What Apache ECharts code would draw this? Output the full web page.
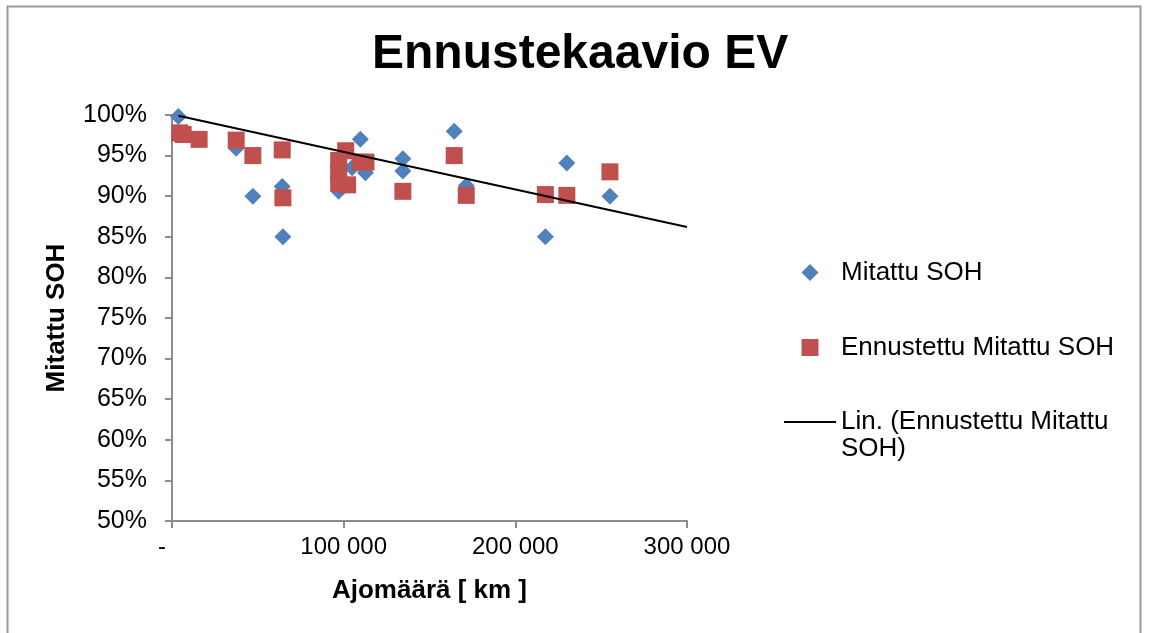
<!DOCTYPE html>
<html>
<head>
<meta charset="utf-8">
<title>Ennustekaavio EV</title>
<script src="https://cdn.jsdelivr.net/npm/echarts@6/dist/echarts.min.js"></script>
<style>
  html, body { margin: 0; padding: 0; background: #fff; }
  #chart { width: 1149px; height: 633px; }
</style>
</head>
<body>
<div id="chart"></div>
<script>
// mitattu SOH (km, %)
var mitattuKm  = [3700, 37400, 47100, 64200, 64600, 97100, 104900, 109700, 112700, 134500, 134500, 164400, 171400, 217500, 230000, 255100];
var mitattuSoh = [99.8, 95.9, 90.0, 91.2, 85.0, 90.6, 93.5, 97.0, 92.9, 94.6, 93.1, 98.0, 91.3, 85.0, 94.1, 90.0];

// ennustettu SOH (km, %)
var ennusteKm  = [4500, 6500, 15800, 37400, 47100, 64200, 64600, 97100, 97100, 97100, 101200, 102300, 109700, 113000, 134500, 164400, 171400, 217500, 230000, 255100];
var ennusteSoh = [97.8, 97.6, 97.0, 96.9, 95.0, 95.7, 89.8, 94.4, 92.9, 91.6, 95.6, 91.4, 94.2, 94.2, 90.6, 95.0, 90.1, 90.2, 90.1, 93.0];

// lineaarinen trendi (alku, loppu)
var trendKm  = [3700, 300000];
var trendSoh = [99.9, 86.2];

var yTicks = [50, 100, 5];      // min, max, interval
var xTicks = [0, 300000, 100000];

function pairs(a, b) {
  var out = [];
  for (var i = 0; i < a.length; i++) out.push([a[i], b[i]]);
  return out;
}

var chart = echarts.init(document.getElementById('chart'));
var font = '"Liberation Sans", Arial, sans-serif';
var axisGray = '#8C8C8C';

var legendText = { fontFamily: font, fontSize: 26, color: '#000', lineHeight: 27 };

// legend icons: 17px symbol centred in a 52px wide box (like the trend line icon)
var diamondIcon = 'path://M0,8.5 L0,8.5 M26,0 L34.5,8.5 L26,17 L17.5,8.5 Z M52,8.5 L52,8.5';
var squareIcon  = 'path://M0,8.5 L0,8.5 M17.5,0 L34.5,0 L34.5,17 L17.5,17 Z M52,8.5 L52,8.5';

var option = {
  animation: false,
  textStyle: { fontFamily: font },
  title: {
    text: 'Ennustekaavio EV',
    left: 372,
    top: 31,
    padding: 0,
    textStyle: { fontFamily: font, fontSize: 48, fontWeight: 'bold', color: '#000' }
  },
  graphic: [{
    type: 'rect',
    shape: { x: 7.5, y: 6.5, width: 1133, height: 700 },
    style: { fill: 'none', stroke: '#999', lineWidth: 2 },
    silent: true
  }],
  grid: { left: 172, right: 462, top: 115, bottom: 112 },
  xAxis: {
    type: 'value',
    min: xTicks[0], max: xTicks[1], interval: xTicks[2],
    name: 'Ajomäärä [ km ]',
    nameLocation: 'middle',
    nameGap: 57,
    nameTextStyle: { fontFamily: font, fontSize: 26, fontWeight: 'bold', color: '#000' },
    splitLine: { show: false },
    axisLine: { lineStyle: { color: axisGray, width: 2 } },
    axisTick: { length: 7, lineStyle: { color: axisGray, width: 2 } },
    axisLabel: {
      margin: 14,
      fontFamily: font, fontSize: 24, color: '#000',
      formatter: function (v) { return v === 0 ? '-   ' : (v / 1000) + ' 000'; }
    }
  },
  yAxis: {
    type: 'value',
    min: yTicks[0], max: yTicks[1], interval: yTicks[2],
    name: 'Mitattu SOH',
    nameLocation: 'middle',
    nameGap: 102,
    nameTextStyle: { fontFamily: font, fontSize: 26, fontWeight: 'bold', color: '#000' },
    splitLine: { show: false },
    axisLine: { show: true, lineStyle: { color: axisGray, width: 2 } },
    axisTick: { show: true, length: 7, lineStyle: { color: axisGray, width: 2 } },
    axisLabel: {
      margin: 25,
      fontFamily: font, fontSize: 25, color: '#000',
      formatter: '{value}%'
    }
  },
  legend: [
    {
      data: [{ name: 'Mitattu SOH', icon: diamondIcon }],
      left: 784, top: 259, padding: 0,
      itemWidth: 52, itemHeight: 17,
      textStyle: legendText
    },
    {
      data: [{ name: 'Ennustettu Mitattu SOH', icon: squareIcon }],
      left: 784, top: 334, padding: 0,
      itemWidth: 52, itemHeight: 17,
      textStyle: legendText
    },
    {
      data: [{ name: 'Lin. (Ennustettu Mitattu SOH)', icon: 'rect' }],
      left: 784, top: 381.5, padding: 0,
      itemWidth: 52, itemHeight: 2,
      formatter: function () { return '\nLin. (Ennustettu Mitattu\nSOH)'; },
      textStyle: legendText
    }
  ],
  series: [
    {
      name: 'Mitattu SOH',
      type: 'scatter',
      symbol: 'diamond',
      symbolSize: 17,
      itemStyle: { color: '#4F81BD', opacity: 1 },
      data: pairs(mitattuKm, mitattuSoh)
    },
    {
      name: 'Ennustettu Mitattu SOH',
      type: 'scatter',
      symbol: 'rect',
      symbolSize: 17,
      itemStyle: { color: '#C0504D', opacity: 1 },
      data: pairs(ennusteKm, ennusteSoh)
    },
    {
      name: 'Lin. (Ennustettu Mitattu SOH)',
      type: 'line',
      symbol: 'none',
      lineStyle: { color: '#000', width: 2 },
      itemStyle: { color: '#000' },
      data: pairs(trendKm, trendSoh)
    }
  ]
};

chart.setOption(option);
</script>
</body>
</html>
